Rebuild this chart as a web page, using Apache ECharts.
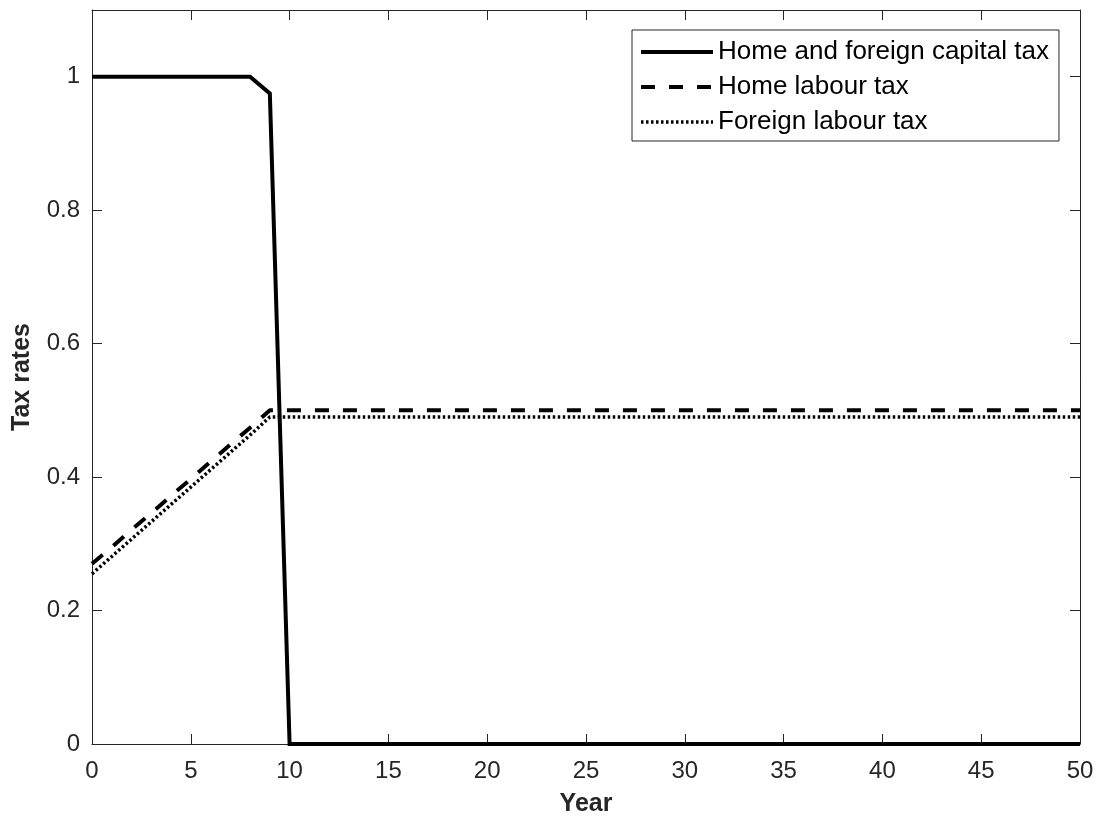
<!DOCTYPE html>
<html>
<head>
<meta charset="utf-8">
<script src="https://cdn.jsdelivr.net/npm/echarts@6/dist/echarts.min.js"></script>
<style>
  html, body { margin: 0; padding: 0; background: #fff; overflow: hidden; }
  #chart { width: 1097px; height: 822px; }
</style>
</head>
<body>
<div id="chart"></div>
<script>
// Years 0..50
const years = Array.from({ length: 51 }, (_, i) => i);

// Tax rate paths, one value per year
const capitalTax = [
  1, 1, 1, 1, 1, 1, 1, 1, 1, 0.975,
  0, 0, 0, 0, 0, 0, 0, 0, 0, 0,
  0, 0, 0, 0, 0, 0, 0, 0, 0, 0,
  0, 0, 0, 0, 0, 0, 0, 0, 0, 0,
  0, 0, 0, 0, 0, 0, 0, 0, 0, 0,
  0
];
const homeLabourTax = [
  0.27, 0.295, 0.321, 0.346, 0.372, 0.397, 0.423, 0.449, 0.474, 0.5,
  0.5, 0.5, 0.5, 0.5, 0.5, 0.5, 0.5, 0.5, 0.5, 0.5,
  0.5, 0.5, 0.5, 0.5, 0.5, 0.5, 0.5, 0.5, 0.5, 0.5,
  0.5, 0.5, 0.5, 0.5, 0.5, 0.5, 0.5, 0.5, 0.5, 0.5,
  0.5, 0.5, 0.5, 0.5, 0.5, 0.5, 0.5, 0.5, 0.5, 0.5,
  0.5
];
const foreignLabourTax = [
  0.255, 0.281, 0.307, 0.333, 0.359, 0.385, 0.411, 0.437, 0.463, 0.49,
  0.49, 0.49, 0.49, 0.49, 0.49, 0.49, 0.49, 0.49, 0.49, 0.49,
  0.49, 0.49, 0.49, 0.49, 0.49, 0.49, 0.49, 0.49, 0.49, 0.49,
  0.49, 0.49, 0.49, 0.49, 0.49, 0.49, 0.49, 0.49, 0.49, 0.49,
  0.49, 0.49, 0.49, 0.49, 0.49, 0.49, 0.49, 0.49, 0.49, 0.49,
  0.49
];
const seriesNames = ['Home and foreign capital tax', 'Home labour tax', 'Foreign labour tax'];

const pairs = (ys) => years.map((x, i) => [x, ys[i]]);

const font = 'Liberation Sans, Arial, sans-serif';
const axisColor = '#262626';

// Line styles shared by each series and its legend entry
const styles = [
  { color: '#000', width: 4, type: 'solid', join: 'miter' },
  { color: '#000', width: 4, type: [14, 14] },
  { color: '#000', width: 3.5, type: [2.5, 2.5] }
];

const baseX = {
  type: 'value', min: 0, max: 50, interval: 5,
  axisLine: { show: true, onZero: false, lineStyle: { color: axisColor, width: 1 } },
  axisTick: { show: true, inside: true, length: 10, lineStyle: { color: axisColor } },
  splitLine: { show: false }
};
const baseY = {
  type: 'value', min: 0, max: 1.1, interval: 0.2,
  axisLine: { show: true, onZero: false, lineStyle: { color: axisColor, width: 1 } },
  axisTick: { show: true, inside: true, length: 10, lineStyle: { color: axisColor } },
  splitLine: { show: false }
};

const chart = echarts.init(document.getElementById('chart'), null, { renderer: 'canvas' });
chart.setOption({
  animation: false,
  backgroundColor: '#fff',
  grid: { left: 92, right: 17, top: 10, bottom: 73, containLabel: false },
  legend: {
    data: seriesNames.map((n, i) => ({ name: n, lineStyle: styles[i] })),
    orient: 'vertical',
    left: 632,
    top: 30,
    padding: [9, 10, 6, 7],
    itemGap: 9,
    itemWidth: 72,
    itemHeight: 24,
    borderColor: axisColor,
    borderWidth: 1,
    borderRadius: 0,
    backgroundColor: '#fff',
    itemStyle: { opacity: 0 },
    textStyle: { fontFamily: font, fontSize: 26, color: '#000' }
  },
  xAxis: [
    Object.assign({}, baseX, {
      position: 'bottom',
      name: 'Year', nameLocation: 'middle', nameGap: 48,
      nameTextStyle: { fontFamily: font, fontSize: 25, fontWeight: 'bold', color: '#262626' },
      axisLabel: { fontFamily: font, fontSize: 24, color: '#262626', margin: 15 }
    }),
    Object.assign({}, baseX, { position: 'top', axisLabel: { show: false } })
  ],
  yAxis: [
    Object.assign({}, baseY, {
      position: 'left',
      name: 'Tax rates', nameLocation: 'middle', nameGap: 57,
      nameTextStyle: { fontFamily: font, fontSize: 25, fontWeight: 'bold', color: '#262626' },
      axisLabel: {
        fontFamily: font, fontSize: 24, color: '#262626', margin: 12, showMaxLabel: false,
        formatter: (v) => (v > 1.05 ? '' : String(Math.round(v * 10) / 10))
      }
    }),
    Object.assign({}, baseY, { position: 'right', axisLabel: { show: false } })
  ],
  series: seriesNames.map((n, i) => ({
    name: n,
    type: 'line',
    data: pairs([capitalTax, homeLabourTax, foreignLabourTax][i]),
    symbol: 'none',
    lineStyle: styles[i],
    itemStyle: { color: '#000' },
    z: i === 0 ? 3 : 2
  }))
});
</script>
</body>
</html>
